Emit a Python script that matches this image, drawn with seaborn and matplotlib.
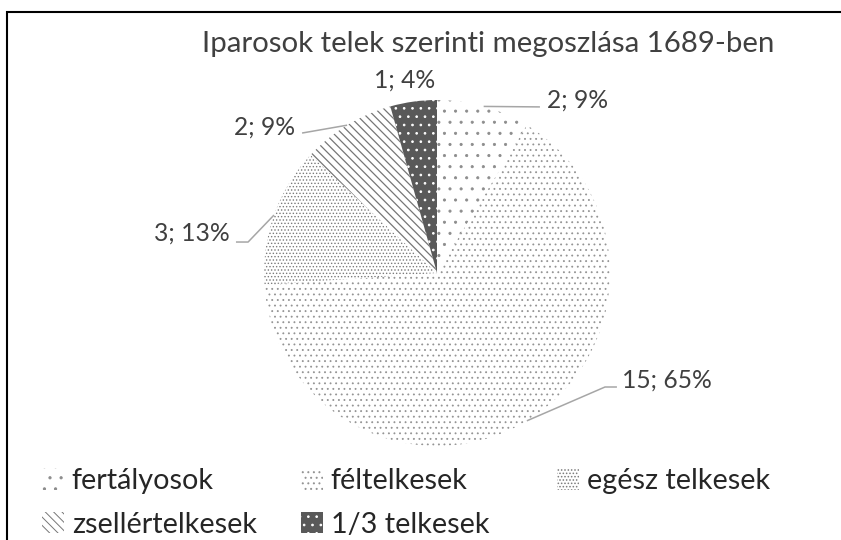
import matplotlib
matplotlib.use("Agg")
import matplotlib.pyplot as plt
import matplotlib.patches as mpatches
import numpy as np
import seaborn as sns

# data
categories = ["fertályosok", "féltelkesek", "egész telkesek", "zsellértelkesek", "1/3 telkesek"]
counts = [2, 15, 3, 2, 1]
title = "Iparosok telek szerinti megoszlása 1689-ben"

# styles
face_colors = ["white", "white", "white", "white", "#595959"]
hatch_colors = ["#8c8c8c", "#949494", "#7a7a7a", "#767676", "white"]
hatches = ["...", "......", "..........", "\\" * 8, "...."]
hatch_widths = [0.3, 0.3, 0.3, 0.45, 0.35]

# label layout, in pie radii: text x, y, alignment, leader points after the wedge edge
label_layout = [
    (0.636, 1.0, "left", [(0.595, 0.96)]),
    (1.069, -0.618, "left", [(0.971, -0.659), (1.040, -0.659)]),
    (-1.197, 0.231, "right", [(-1.092, 0.179), (-1.162, 0.179)]),
    (-0.821, 0.844, "right", [(-0.780, 0.809)]),
    (-0.185, 1.116, "center", []),
]

W, H = 841, 540
cx, cy, r = 437, 273, 173
DPI = 200

sns.set_theme(style="white")
plt.rcParams["font.family"] = ["Lato", "DejaVu Sans"]
plt.rcParams["hatch.linewidth"] = 0.35
text_color = "#404040"

fig = plt.figure(figsize=(W / DPI, H / DPI), dpi=DPI)
fig.patch.set_facecolor("white")
renderer = fig.canvas.get_renderer()


def fit_size(s, target_px, size0=10.0):
    # font size that makes the string about target_px wide (the original is in Calibri)
    t = fig.text(0, 0, s, fontsize=size0)
    w = t.get_window_extent(renderer).width
    t.remove()
    return size0 * target_px / w


title_size = fit_size(title, 573)
label_size = fit_size("3; 13%", 75)
legend_size = fit_size("fertályosok", 142)

ax = fig.add_axes([0, 0, 1, 1])

wedges, _ = ax.pie(counts, startangle=90, counterclock=False, radius=1,
                   wedgeprops=dict(linewidth=0))
for w, fc, hc, h, hw in zip(wedges, face_colors, hatch_colors, hatches, hatch_widths):
    w.set_facecolor(fc)
    w.set_edgecolor(hc)
    w.set_hatch(h)
    w.set_linewidth(0)
    if hasattr(w, "set_hatch_linewidth"):
        w.set_hatch_linewidth(hw)

ax.set_xlim(-cx / r, (W - cx) / r)
ax.set_ylim(-(H - cy) / r, cy / r)
ax.set_aspect("auto")
ax.axis("off")

total = sum(counts)
for w, c, (tx, ty, ha, pts) in zip(wedges, counts, label_layout):
    mid = np.deg2rad((w.theta1 + w.theta2) / 2)
    if pts:
        xs = [np.cos(mid)] + [p[0] for p in pts]
        ys = [np.sin(mid)] + [p[1] for p in pts]
        ax.plot(xs, ys, color="#a6a6a6", lw=0.55, solid_capstyle="butt")
    ax.text(tx, ty, f"{c}; {round(100 * c / total)}%", ha=ha, va="center",
            fontsize=label_size, color=text_color)

fig.text(488 / W, 1 - 44 / H, title, ha="center", va="center", fontsize=title_size, color=text_color)

# legend, one column at a time so the columns line up like the original
handles = []
for cat, fc, hc, h in zip(categories, face_colors, hatch_colors, hatches):
    p = mpatches.Patch(facecolor=fc, edgecolor=hc, hatch=h, linewidth=0, label=cat)
    handles.append(p)
columns = [([0, 3], 42), ([1, 4], 301), ([2], 557)]
for idx, x0 in columns:
    fig.legend(handles=[handles[i] for i in idx], loc="upper left",
               bbox_to_anchor=(x0 / W, 1 - 468 / H), frameon=False,
               fontsize=legend_size, labelcolor="#262626", borderpad=0, borderaxespad=0,
               handlelength=0.75, handleheight=0.75, handletextpad=0.28, labelspacing=0.62)

# outer frame, cut off on the right and bottom
frame = mpatches.Rectangle((7 / W, -0.1), 1.2, 1.1 - 12 / H, transform=fig.transFigure,
                           fill=False, edgecolor="black", linewidth=0.75)
fig.patches.append(frame)

fig.savefig("out.png", dpi=DPI, facecolor="white")
